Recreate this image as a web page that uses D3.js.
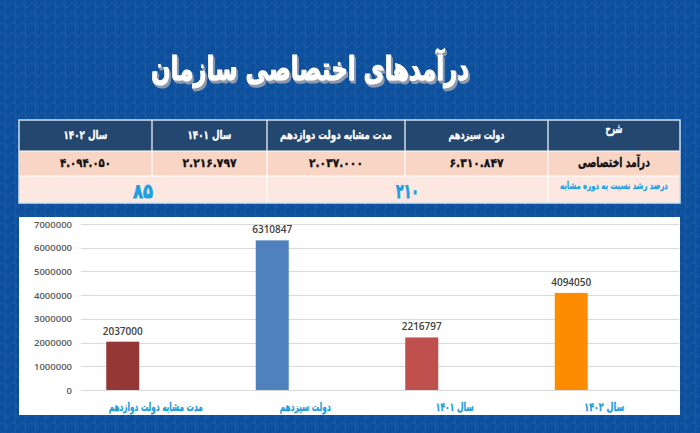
<!DOCTYPE html>
<html><head><meta charset="utf-8">
<script src="https://cdn.jsdelivr.net/npm/d3@7"></script>
<style>html,body{margin:0;padding:0;background:#0b4e9b;overflow:hidden}</style>
</head><body><svg id="c" width="700" height="433"></svg>
<script>
// ---------- data ----------
const titleText = "درآمدهای اختصاصی سازمان";
const categories = ["مدت مشابه دولت دوازدهم", "دولت سیزدهم", "سال ۱۴۰۱", "سال ۱۴۰۲"];
const values = [2037000, 6310847, 2216797, 4094050];
const barColors = ["#953735", "#4f81bd", "#c0504d", "#ff8c00"];
const yTicks = [0, 1000000, 2000000, 3000000, 4000000, 5000000, 6000000, 7000000];
const tableHeaders = ["شرح", "دولت سیزدهم", "مدت مشابه دولت دوازدهم", "سال ۱۴۰۱", "سال ۱۴۰۲"];
const tableIncome = ["درآمد اختصاصی", "۶.۳۱۰.۸۴۷", "۲.۰۳۷.۰۰۰", "۲.۲۱۶.۷۹۷", "۴.۰۹۴.۰۵۰"];
const growthLabel = "درصد رشد نسبت به دوره مشابه";
const growthValues = ["۲۱۰", "۸۵"];

// ---------- layout ----------
const W = 700, H = 433;
const AR = "'DejaVu Sans', 'Noto Sans', sans-serif";
const NUM = "'Open Sans', 'Liberation Sans', sans-serif";
const svg = d3.select("#c");

// fit a text horizontally to a target width (scaling about its anchor x)
function fit(sel, w) {
  sel.each(function () {
    const t = d3.select(this);
    const len = this.getComputedTextLength();
    if (!len) return;
    const ax = +t.attr("x") || 0;
    t.attr("transform", `translate(${ax},0) scale(${w / len},1) translate(${-ax},0)`);
  });
}

// background with faint pattern
const defs = svg.append("defs");
const pat = defs.append("pattern").attr("id", "bgp").attr("width", 10).attr("height", 10)
  .attr("patternUnits", "userSpaceOnUse");
pat.append("rect").attr("width", 10).attr("height", 10).attr("fill", "#0c4f9c");
pat.append("path").attr("d", "M0 5 Q2.5 0 5 5 T10 5 M5 0 Q7.5 5 5 10")
  .attr("fill", "none").attr("stroke", "rgba(120,170,230,0.18)").attr("stroke-width", 0.8);
svg.append("rect").attr("width", W).attr("height", H).attr("fill", "url(#bgp)");

// title 3D shadow filter
const f = defs.append("filter").attr("id", "tsh").attr("x", "-5%").attr("y", "-20%").attr("width", "115%").attr("height", "150%");
[1, 2, 3].forEach(k => f.append("feOffset").attr("in", "SourceAlpha").attr("dx", k * 0.9).attr("dy", k).attr("result", "o" + k));
const fm = f.append("feMerge").attr("result", "om");
[1, 2, 3].forEach(k => fm.append("feMergeNode").attr("in", "o" + k));
f.append("feFlood").attr("flood-color", "#8d9aae").attr("result", "fl");
f.append("feComposite").attr("in", "fl").attr("in2", "om").attr("operator", "in").attr("result", "sh");
const fm2 = f.append("feMerge");
fm2.append("feMergeNode").attr("in", "sh");
fm2.append("feMergeNode").attr("in", "SourceGraphic");

// ---------- title ----------
svg.append("text").attr("x", 310).attr("y", 80)
  .attr("text-anchor", "middle").attr("direction", "rtl")
  .attr("font-family", AR).attr("font-weight", "bold").attr("font-size", 33)
  .attr("fill", "#ffffff").attr("stroke", "#ffffff").attr("stroke-width", 1)
  .attr("filter", "url(#tsh)").text(titleText)
  .call(fit, 318);

// ---------- table ----------
const colEdges = [680, 548, 405, 267, 152, 19]; // right to left
const rowEdges = [120, 151, 176, 203];
const tbl = svg.append("g");
const rowFills = ["#23476f", "#f9d5c5", "#fce8e1"];
rowFills.forEach((c, i) => tbl.append("rect").attr("x", 19).attr("y", rowEdges[i]).attr("width", 661)
  .attr("height", rowEdges[i + 1] - rowEdges[i]).attr("fill", c));
colEdges.slice(1, -1).forEach(cx => {
  tbl.append("line").attr("x1", cx).attr("x2", cx).attr("y1", rowEdges[0]).attr("y2", rowEdges[2])
    .attr("stroke", "#ffffff").attr("stroke-width", 1.2);
});
[548, 267].forEach(cx => tbl.append("line").attr("x1", cx).attr("x2", cx).attr("y1", rowEdges[2]).attr("y2", rowEdges[3])
  .attr("stroke", "#ffffff").attr("stroke-width", 1.2));
[rowEdges[1], rowEdges[2]].forEach(ry => tbl.append("line").attr("x1", 19).attr("x2", 680).attr("y1", ry).attr("y2", ry)
  .attr("stroke", "#ffffff").attr("stroke-width", 1.2));
tbl.append("rect").attr("x", 19).attr("y", 120).attr("width", 661).attr("height", 83)
  .attr("fill", "none").attr("stroke", "#cfe3f5").attr("stroke-width", 1.5);

const colCenter = i => (colEdges[i] + colEdges[i + 1]) / 2;
const headerW = [17, 56, 112, 44, 44];
tableHeaders.forEach((h, i) => {
  tbl.append("text").attr("x", colCenter(i)).attr("y", i === 0 ? 133 : 139)
    .attr("text-anchor", "middle").attr("direction", "rtl")
    .attr("font-family", AR).attr("font-weight", "bold").attr("font-size", i === 0 ? 12.5 : 11.5)
    .attr("fill", "#ffffff").attr("stroke", "#ffffff").attr("stroke-width", 0.35)
    .text(h).call(fit, headerW[i]);
});
const incomeW = [72, 54, 54, 54, 51];
tableIncome.forEach((v, i) => {
  tbl.append("text").attr("x", colCenter(i)).attr("y", 167)
    .attr("text-anchor", "middle").attr("direction", "rtl")
    .attr("font-family", AR).attr("font-weight", "bold").attr("font-size", i === 0 ? 13.5 : 12)
    .attr("fill", "#111111").attr("stroke", "#111111").attr("stroke-width", 0.35)
    .text(v).call(fit, incomeW[i]);
});
tbl.append("text").attr("x", colCenter(0)).attr("y", 189)
  .attr("text-anchor", "middle").attr("direction", "rtl")
  .attr("font-family", AR).attr("font-weight", "bold").attr("font-size", 10)
  .attr("fill", "#1ba0e0").attr("stroke", "#1ba0e0").attr("stroke-width", 0.25)
  .text(growthLabel).call(fit, 108);
const growthW = [23, 20];
growthValues.forEach((g, i) => {
  const cx = (colEdges[1 + 2 * i] + colEdges[3 + 2 * i]) / 2;
  tbl.append("text").attr("x", cx).attr("y", 198)
    .attr("text-anchor", "middle").attr("direction", "rtl")
    .attr("font-family", AR).attr("font-weight", "bold").attr("font-size", 20)
    .attr("fill", "#1ba0e0").attr("stroke", "#1ba0e0").attr("stroke-width", 0.8)
    .text(g).call(fit, growthW[i]);
});

// ---------- chart ----------
svg.append("rect").attr("x", 19).attr("y", 217).attr("width", 661).attr("height", 198).attr("fill", "#ffffff");

const y = d3.scaleLinear().domain([0, 7000000]).range([390, 224]);
const x = d3.scaleBand().domain(categories).range([81, 679]);
const x1 = d3.scaleBand().domain(["s0", "s1", "s2"]).range([0, x.bandwidth()]).paddingOuter(0.765);

svg.append("g").selectAll("line").data(yTicks).join("line")
  .attr("x1", 81).attr("x2", 679)
  .attr("y1", d => Math.round(y(d)) + 0.5).attr("y2", d => Math.round(y(d)) + 0.5)
  .attr("stroke", "#d9d9d9").attr("stroke-width", 1);

const yAxis = svg.append("g").attr("transform", "translate(80,0)")
  .call(d3.axisLeft(y).tickValues(yTicks).tickFormat(d3.format("d")).tickSize(0).tickPadding(8));
yAxis.select(".domain").remove();
yAxis.selectAll("text").attr("font-family", NUM).attr("font-weight", 600).attr("font-size", 9.5).attr("fill", "#595959");

const data = categories.map((c, i) => ({ c, v: values[i], col: barColors[i] }));
svg.append("g").selectAll("rect").data(data).join("rect")
  .attr("x", d => x(d.c) + x1("s0"))
  .attr("width", x1.bandwidth())
  .attr("y", d => y(d.v))
  .attr("height", d => y(0) - y(d.v))
  .attr("fill", d => d.col);

svg.append("g").selectAll("text").data(data).join("text")
  .attr("x", d => x(d.c) + x1("s0") + x1.bandwidth() / 2)
  .attr("y", d => y(d.v) - 7)
  .attr("text-anchor", "middle")
  .attr("font-family", NUM).attr("font-weight", 600).attr("font-size", 10)
  .attr("fill", "#404040").text(d => d.v);

const xAxis = svg.append("g").attr("transform", "translate(0,390)")
  .call(d3.axisBottom(x).tickSize(0).tickPadding(0));
xAxis.select(".domain").remove();
const xLabelW = [94, 51, 38, 40];
xAxis.selectAll("text").attr("dy", 0).attr("y", 21).attr("direction", "rtl")
  .attr("font-family", AR).attr("font-weight", "bold").attr("font-size", 11.5)
  .attr("fill", "#1d9ad9").attr("stroke", "#1d9ad9").attr("stroke-width", 0.3)
  .each(function (d, i) { d3.select(this).call(fit, xLabelW[i]); });
</script></body></html>
